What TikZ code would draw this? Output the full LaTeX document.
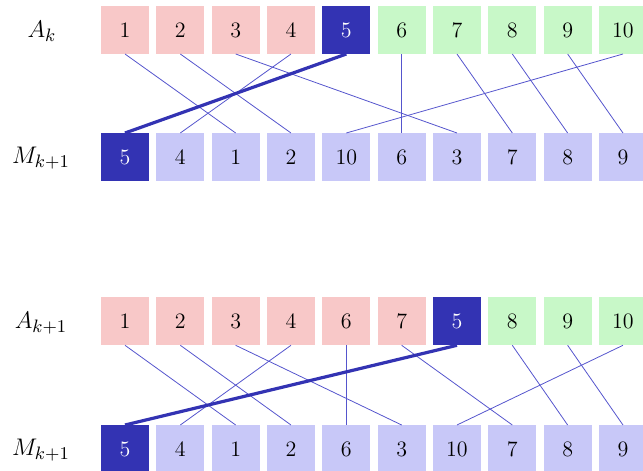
\documentclass[tikz,border=0pt]{standalone}
\begin{document}
\begin{tikzpicture}[x=0.5pt,y=-0.5pt,
  every node/.style={font=\fontsize{11}{13}\selectfont},
  cell/.style={minimum width=24pt,minimum height=24pt,inner sep=0pt,outer sep=0pt},
  redc/.style={cell,fill=cred},
  greenc/.style={cell,fill=cgreen},
  bluec/.style={cell,fill=cblue},
  darkc/.style={cell,fill=cdark,text=white},
  lab/.style={inner sep=0pt,font=\fontsize{13.2}{15}\selectfont},
  link/.style={draw=clink,line width=0.4pt},
  biglink/.style={draw=cdark,line width=1.6pt}]
\definecolor{cred}{RGB}{248,200,200}
\definecolor{cgreen}{RGB}{200,248,200}
\definecolor{cblue}{RGB}{200,200,248}
\definecolor{cdark}{RGB}{51,51,179}
\definecolor{clink}{RGB}{85,85,205}
\useasboundingbox (0,0) rectangle (643,471);
% labels
\node[lab] (la1) at (42,31) {$A_k$};
\node[lab] (lm1) at (41,158) {$M_{k+1}$};
\node[lab] (la2) at (41,323) {$A_{k+1}$};
\node[lab] (lm2) at (41,450) {$M_{k+1}$};
% top A row
\foreach \v/\s [count=\i from 0] in {1/redc,2/redc,3/redc,4/redc,5/darkc,6/greenc,7/greenc,8/greenc,9/greenc,10/greenc}
  \node[\s] (ta\v) at (125+55.33*\i,30) {\v};
% top M row
\foreach \v [count=\i from 0] in {5,4,1,2,10,6,3,7,8,9}
  \node[bluec] (tm\v) at (125+55.33*\i,157) {\v};
\node[darkc] at (tm5) {5};
% bottom A row
\foreach \v/\s [count=\i from 0] in {1/redc,2/redc,3/redc,4/redc,6/redc,7/redc,5/darkc,8/greenc,9/greenc,10/greenc}
  \node[\s] (ba\v) at (125+55.33*\i,321.3) {\v};
% bottom M row
\foreach \v [count=\i from 0] in {5,4,1,2,6,3,10,7,8,9}
  \node[bluec] (bm\v) at (125+55.33*\i,449) {\v};
\node[darkc] at (bm5) {5};
% links
\foreach \v in {1,2,3,4,6,7,8,9,10} {
  \draw[link] (ta\v.south) -- (tm\v.north);
  \draw[link] (ba\v.south) -- (bm\v.north);
}
\draw[biglink] (ta5.south) -- (tm5.north);
\draw[biglink] (ba5.south) -- (bm5.north);
\end{tikzpicture}
\end{document}
